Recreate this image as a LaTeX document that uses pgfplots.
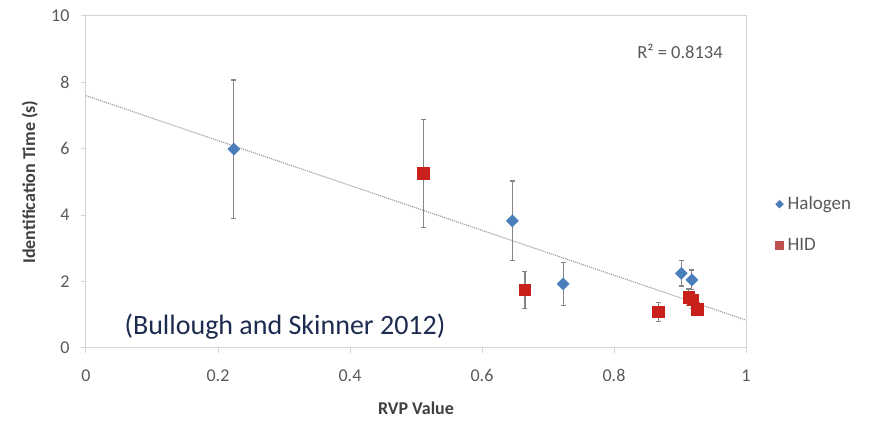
\documentclass[border=0pt]{standalone}
\usepackage{pgfplots}
\pgfplotsset{compat=1.18}
\usepackage{fontspec}
\setmainfont{Carlito}
\definecolor{halo}{HTML}{4A7EBB}
\definecolor{hid}{HTML}{C8201A}
\definecolor{hidleg}{HTML}{C0504D}
\definecolor{axgray}{HTML}{D4D4D4}
\definecolor{txt}{HTML}{595959}
\definecolor{lbl}{HTML}{404040}
\definecolor{navy}{HTML}{1C2B4F}
\definecolor{errgray}{HTML}{858585}
\pgfplotstableread{
x y e
0.224 5.99 2.08
0.646 3.83 1.20
0.723 1.93 0.65
0.902 2.25 0.38
0.918 2.05 0.30
}\halogen
\pgfplotstableread{
x y e
0.511 5.26 1.63
0.665 1.75 0.55
0.867 1.09 0.28
0.913 1.53 0.25
0.919 1.45 0.25
0.926 1.17 0.20
}\hiddata
\begin{document}
\begin{tikzpicture}
\path[use as bounding box] (0pt,0pt) rectangle (871pt,423pt);
\begin{axis}[
  at={(86pt,75pt)}, anchor=south west,
  scale only axis, width=660pt, height=332pt,
  xmin=0, xmax=1, ymin=0, ymax=10,
  xtick={0,0.2,0.4,0.6,0.8,1}, ytick={0,2,4,6,8,10},
  axis line style={axgray, line width=1pt},
  tick style={axgray, line width=1pt},
  tick align=outside, major tick length=5pt,
  xtick pos=bottom, ytick pos=left,
  /pgf/number format/assume math mode=true,
  ticklabel style={font=\fontsize{18}{18}\selectfont, text=txt},
  xticklabel style={yshift=-13pt},
  yticklabel style={xshift=-8pt},
  xlabel={RVP Value}, ylabel={Identification Time (s)},
  label style={font=\fontsize{18}{18}\selectfont\bfseries, text=lbl},
  xlabel style={at={(axis description cs:0.5,-0.18)}, anchor=center},
  ylabel style={at={(axis description cs:-0.085,0.5)}, anchor=center},
  legend style={draw=none, fill=none, at={(axis description cs:1.04,0.372)}, anchor=west,
    font=\fontsize{19}{19}\selectfont, text=txt, row sep=23pt,
    nodes={inner xsep=4pt}},
  legend cell align=left,
]
\addlegendimage{only marks, mark=square*, mark options={rotate=45, fill=halo, draw=halo}, mark size=2.8pt}
\addlegendentry{Halogen}
\addlegendimage{only marks, mark=square*, mark options={fill=hidleg, draw=hidleg}, mark size=4pt}
\addlegendentry{HID}

\addplot[forget plot, densely dotted, color=gray!80, line width=1.1pt] coordinates {(0,7.6) (1,0.84)};

\addplot[forget plot, only marks, mark=square*, mark size=4.3pt,
  mark options={rotate=45, fill=halo, draw=halo},
  error bars/.cd, y dir=both, y explicit,
  error bar style={errgray, line width=1.2pt},
  error mark options={errgray, mark size=2.5pt, line width=1.2pt, rotate=90}]
  table[x=x, y=y, y error=e] {\halogen};

\addplot[forget plot, only marks, mark=square*, mark size=5.7pt,
  mark options={fill=hid, draw=hid},
  error bars/.cd, y dir=both, y explicit,
  error bar style={errgray, line width=1.2pt},
  error mark options={errgray, mark size=2.5pt, line width=1.2pt, rotate=90}]
  table[x=x, y=y, y error=e] {\hiddata};

\node[font=\fontsize{18.5}{18.5}\selectfont, text=txt] at (axis cs:0.9,8.92) {R² = 0.8134};
\node[font=\fontsize{28}{28}\selectfont, text=navy] at (axis cs:0.3015,0.63) {(Bullough and Skinner 2012)};
\end{axis}
\end{tikzpicture}
\end{document}
